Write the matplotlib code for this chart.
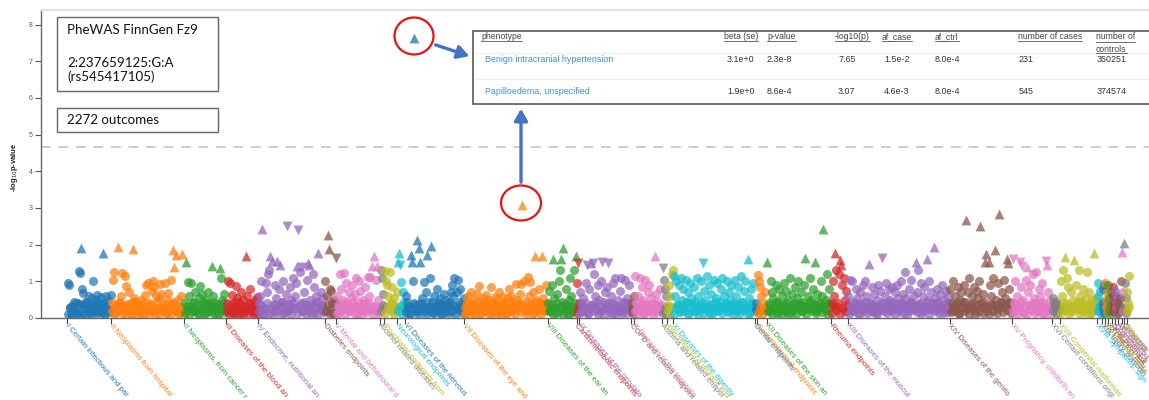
import matplotlib
matplotlib.use("Agg")
import matplotlib.pyplot as plt
from matplotlib.patches import Rectangle, Ellipse, FancyArrowPatch
from matplotlib.lines import Line2D
import numpy as np

plt.rcParams['font.family'] = ['Liberation Sans', 'DejaVu Sans']

W, H = 1149, 400

# ---- data -----------------------------------------------------------------
categories = [
    "I Certain infectious and parasitic diseases",
    "II Neoplasms from hospital discharges",
    "II Neoplasms, from cancer register",
    "III Diseases of the blood and blood-forming organs",
    "IV Endocrine, nutritional and metabolic diseases",
    "Diabetes endpoints",
    "V Mental and behavioural disorders",
    "Alcohol related diseases",
    "Psychiatric endpoints from Katri Räikkönen",
    "Neurological endpoints",
    "VI Diseases of the nervous system",
    "VII Diseases of the eye and adnexa",
    "VIII Diseases of the ear and mastoid process",
    "Cardiometabolic endpoints",
    "IX Diseases of the circulatory system",
    "COPD and related endpoints",
    "X Diseases of the respiratory system",
    "Asthma and related endpoints",
    "Interstitial lung disease endpoints",
    "XI Diseases of the digestive system",
    "Dental endpoints",
    "Gastrointestinal endpoints",
    "XII Diseases of the skin and subcutaneous tissue",
    "Rheuma endpoints",
    "XIII Diseases of the musculoskeletal system",
    "XIV Diseases of the genitourinary system",
    "XV Pregnancy, childbirth and the puerperium",
    "XVI Certain conditions originating in the perinatal period",
    "XVII Congenital malformations",
    "XVIII Symptoms, signs and abnormal findings",
    "XIX Injury, poisoning and external causes",
    "XX External causes of morbidity and mortality",
    "XXI Factors influencing health status",
    "Drug purchase endpoints",
    "Quantitative endpoints",
    "Miscellaneous, not yet classified endpoints",
    "Comorbidities of Asthma",
    "Comorbidities of COPD",
    "Other, not yet classified endpoints",
]

# number of outcomes per category (sums to 2272)
n_outcomes = [94, 156, 90, 68, 143, 24, 94, 9, 28, 17, 126, 178, 62, 6, 111, 6, 60,
              11, 13, 175, 4, 21, 137, 36, 218, 133, 86, 17, 79,
              11, 6, 6, 9, 6, 6, 9, 4, 6, 7]

# signed -log10(p) x100 per category (negative = negative beta), in phenotype order
logp = [
    "95 91 28 12 33 18 45 22 15 40 128 122 192 80 68 35 10 45 27 60 14 38 55 102 20 30 48 62 24 16 58 35 177 42 12 60 28 50 20 62",
    "40 105 126 30 15 195 45 22 60 122 35 115 88 18 28 70 40 12 187 55 25 45 10 38 20 48 32 15 62 90 28 95 42 18 75 100 85 12 60 26 55 92 65 20 30 95 14 50 68 25 104 38 185 140 22 172 48 30 15 60 175 22",
    "40 152 25 98 60 96 30 18 45 70 22 12 55 88 35 65 28 15 50 40 72 20 32 142 60 45 18 25 38 12 137 108 50 30 66 20",
    "40 100 20 95 62 30 12 45 88 55 25 35 70 15 50 28 170 60 22 42 80 18 35 10 48 30 58",
    "40 60 102 242 25 12 95 70 120 130 170 155 35 18 90 55 155 80 145 30 45 100 15 65 -250 38 22 85 50 110 28 60 95 143 -240 125 40 -140 20 70 35 105 150 145 50 15 120 85 30 60 45 177 25 70 35 55 20",
    "102 60 227 187 80 75 40 15 50 -165",
    "60 35 15 120 80 50 122 25 95 40 70 20 55 90 30 65 110 12 45 100 75 28 50 18 85 40 112 60 113 22 142 168 30 105 142 48 15",
    "132 110 65 30",
    "128 100 90 60 125 40 85 20 55 30 70",
    "153 177 -145 98 70 45 25",
    "60 45 25 12 172 153 100 765 35 213 20 190 153 40 55 98 18 70 172 30 110 196 45 15 60 28 80 40 22 55 12 35 65 25 50 18 42 30 70 90 60 110 25 70 105 45 80 30 20 55",
    "30 12 45 60 25 70 15 38 50 20 65 28 88 10 42 55 18 35 62 22 48 30 85 12 40 58 25 48 15 70 35 20 58 45 28 10 55 80 30 60 18 40 25 92 50 35 65 92 307 28 100 45 20 113 60 98 35 70 15 168 50 28 80 40 22 170 55 30 90 40",
    "40 75 20 90 160 55 30 15 65 100 130 160 45 190 25 80 35 12 50 110 60 28 130 40 170",
    "95 -150 40",
    "70 40 20 55 30 95 -145 15 80 150 35 -150 120 60 25 90 50 18 100 -153 45 70 28 85 -150 40 60 12 95 35 110 22 50 30 75 110 15 45 105 25 55 40 90 20",
    "40 20 60",
    "115 40 20 60 30 108 85 50 15 105 35 70 90 25 55 40 18 168 65 30 45 22 80 35",
    "-136 105 80 60 30",
    "35 90 60 120 130",
    "115 60 100 35 90 20 110 50 80 25 105 40 70 15 95 55 30 85 45 20 110 60 35 100 25 -150 75 50 115 30 90 15 65 40 105 20 55 95 30 45 80 110 25 60 35 100 18 70 50 90 28 40 105 60 20 85 35 115 45 25 75 100 30 160 55 15 80 40 95 25",
    "40 20",
    "117 100 85 60 40 25 70 30",
    "152 40 20 100 70 55 30 90 15 45 80 25 60 35 95 20 75 50 30 110 15 65 40 85 25 55 100 35 70 20 45 90 163 30 60 25 110 50 80 35 152 20 65 45 30 102 60 243 25 50 120 40 80 30",
    "40 100 60 177 130 30 120 158 145 90 110 50 75 20",
    "60 105 30 100 45 20 80 55 35 15 70 40 90 25 100 60 30 147 45 20 85 35 65 15 50 90 30 75 -163 40 20 60 95 35 80 50 25 85 45 70 30 90 55 20 100 40 65 30 125 55 20 80 45 105 35 60 25 153 70 130 40 95 20 60 85 30 160 50 100 25 70 40 194 55 25 80 45 65 30 90 15 50 75 25 60 40",
    "80 40 100 20 60 35 85 15 50 70 30 90 45 267 25 70 110 30 60 40 85 20 75 55 100 250 30 65 45 152 175 20 152 90 60 35 110 185 50 25 95 284 40 70 30 105 55 160 150 80 45 35",
    "-160 40 100 20 60 30 -152 85 -142 50 15 105 139 70 35 90 25 120 55 40 125 20 80 60 30 95 45 15 -155 145 70 25 50 35",
    "55 40 30 45 20 35 25",
    "100 60 130 40 167 110 85 30 20 70 50 158 35 90 25 130 60 45 20 80 35 55 125 30 70 15 50 40 177 25 55",
    "95 60 30 75 20 45",
    "80 40 90 20",
    "95 50 70 30",
    "90 55 35 70 20",
    "85 60 40",
    "75 45 30 60",
    "40 25 55 100",
    "180 70",
    "205 95 55",
    "70 40 115",
]

# the many weak associations (-log10(p) x100) of each category
logp_weak = [
    "12 30 08 22 40 15 35 10 27 45 18 32 09 25 38 14 42 20 11 33 24 16",
    "20 10 35 25 42 14 30 08 38 22 12 45 28 16 33 09 40 24 13 36 18 27 44 11 31 21 39 15 26 10 43 19 34 12 29 17",
    "15 32 09 27 41 18 36 12 24 44 10 30 20 38 14 26 08 35 22 40 16",
    "22 10 38 16 30 12 44 20 08 34 26 14 40 18 28 11",
    "18 36 10 28 42 14 24 09 38 20 32 12 45 16 30 22 08 40 26 13 35 19 44 11 29 23 37 15 41 10 27 33 17",
    "20 35 10 28 15 40",
    "14 30 22 40 10 36 18 26 44 12 32 20 08 38 24 16 42 28 11 34 19 25",
    "20 35",
    "15 30 22 40 10 28",
    "18 34 10 26",
    "16 34 10 26 42 20 12 38 24 30 09 44 18 28 14 36 22 40 11 32 25 15 43 19 35 08 27 21 39 13",
    "12 28 40 18 34 09 24 44 14 30 20 38 10 26 42 16 32 22 08 36 27 13 45 19 33 11 29 41 17 35 23 10 39 25 15 43 21 31 12 37 18 28",
    "20 35 10 28 42 16 30 12 38 24 08 33 18 26",
    "15 30",
    "14 32 20 40 10 26 36 18 44 12 30 22 08 38 24 16 42 28 11 34 19 25 40 13 31 21",
    "25 12",
    "18 30 10 40 24 14 35 20 28 09 38 16 32 22",
    "15 28 10",
    "20 12 30",
    "10 26 38 16 32 20 44 12 28 40 18 34 09 24 42 14 30 22 36 11 27 45 19 33 13 29 41 17 35 23 08 39 25 15 43 21 31 12 37 18 26",
    "25",
    "15 30 10 25 20",
    "20 36 12 28 44 16 32 09 24 40 14 30 22 38 10 26 42 18 34 11 29 45 19 35 13 27 41 17 33 23 08 37",
    "14 32 22 40 10 28 18 36",
    "12 30 18 42 24 09 36 20 44 14 28 38 16 32 10 26 40 22 34 13 45 19 29 11 37 25 41 15 33 08 27 43 21 35 17 39 12 31 23 44 10 28 36 18 42 14 30 24 38 16 26",
    "16 34 22 40 10 28 44 18 30 12 38 24 08 36 20 42 14 32 26 11 39 19 35 13 29 43 17 33 23 41 15",
    "20 38 12 30 44 16 26 10 36 22 40 14 32 18 42 09 28 24 34 12",
    "18 32 10 26",
    "14 30 22 40 10 34 18 26 44 12 36 20 28 08 38 16 32 24",
    "20 35 12",
    "28 14",
    "30 16",
    "22 10 34",
    "18 30",
    "26 12",
    "15 32 22",
    "20",
    "28 14",
    "18 30",
]

table_cols = ["phenotype", "beta (se)", "p-value", "-log10(p)", "af_case", "af_ctrl",
              "number of cases", "number of\ncontrols"]
table_rows = [
    ["Benign intracranial hypertension", "3.1e+0", "2.3e-8", "7.65", "1.5e-2", "8.0e-4", "231", "350251"],
    ["Papilloedema, unspecified", "1.9e+0", "8.6e-4", "3.07", "4.6e-3", "8.0e-4", "545", "374574"],
]

threshold = 4.66
total = sum(n_outcomes)

# ---- figure ---------------------------------------------------------------
def fx(px):
    return px / W


def fy(py):
    return 1 - py / H


fig = plt.figure(figsize=(W / 100, H / 100), dpi=100)
ax = fig.add_axes([fx(41), fy(318), fx(1149 - 41), (318 - 10) / H])

colors = plt.get_cmap("tab10").colors
starts = np.concatenate([[0], np.cumsum(n_outcomes)[:-1]])


def spread(start, size, n):
    return start + (np.arange(n) + 0.5) / n * size


cat_labels = []
for i, name in enumerate(categories):
    col = colors[i % 10]
    size = n_outcomes[i]
    weak = np.array([int(v) for v in logp_weak[i].split()]) / 100
    ax.scatter(spread(starts[i], size, len(weak)), weak, s=42, color=col, alpha=0.72,
               linewidths=0, zorder=2)
    vals = np.array([int(v) for v in logp[i].split()]) / 100
    xs = spread(starts[i], size, len(vals))
    ys = np.abs(vals)
    circ = ys < 1.35
    up = (~circ) & (vals > 0)
    dn = (~circ) & (vals < 0)
    ax.scatter(xs[circ], ys[circ], s=42, color=col, alpha=0.72, linewidths=0, zorder=2)
    ax.scatter(xs[up], ys[up], s=50, marker="^", color=col, alpha=0.75, linewidths=0, zorder=3)
    ax.scatter(xs[dn], ys[dn], s=50, marker="v", color=col, alpha=0.75, linewidths=0, zorder=3)
    t = ax.annotate(name, xy=(starts[i], 0), xycoords=("data", "axes fraction"),
                    xytext=(1.5, -3), textcoords="offset points", rotation=-50,
                    rotation_mode="anchor", ha="left", va="top", fontsize=5.6,
                    color=col, annotation_clip=False)
    cat_labels.append(t)

ax.axhline(threshold, color="#cccccc", lw=1.4, ls=(0, (5, 4)), zorder=1)

ax.set_xlim(-56, total + 41)
ax.set_ylim(0, 8.4)
ax.set_xticks(starts)
ax.set_xticklabels([])
ax.set_yticks(range(0, 9))
ax.tick_params(axis="y", labelsize=5, colors="#555555", length=4, width=0.8, pad=2)
ax.tick_params(axis="x", length=4, width=0.8, colors="#444444")
ax.spines["right"].set_visible(False)
ax.spines["top"].set_color("#e3e3e3")
ax.spines["top"].set_linewidth(1.6)
for sp in ["left", "bottom"]:
    ax.spines[sp].set_color("#666666")
    ax.spines[sp].set_linewidth(1)
ax.set_ylabel(r"-log$_{10}$p-value", fontsize=5.5, fontweight="bold", color="#222222")
ax.yaxis.set_label_coords(-0.019, 0.49)

# ---- info boxes -----------------------------------------------------------
box_font = "Lato"
fig.patches.append(Rectangle((fx(57), fy(91)), fx(218 - 57), (91 - 17) / H,
                             transform=fig.transFigure, fill=False, ec="#666666", lw=1))
for yy, txt in [(30, "PheWAS FinnGen Fz9"), (63, "2:237659125:G:A"), (77, "(rs545417105)")]:
    fig.text(fx(67), fy(yy), txt, fontsize=9.6, family=box_font,
             va="center", ha="left", color="#111111")
fig.patches.append(Rectangle((fx(57), fy(132)), fx(218 - 57), (132 - 108) / H,
                             transform=fig.transFigure, fill=False, ec="#666666", lw=1))
fig.text(fx(67), fy(120), "2272 outcomes", fontsize=9.6, family=box_font,
         va="center", ha="left", color="#111111")

# ---- table inset ----------------------------------------------------------
fig.patches.append(Rectangle((fx(473), fy(104)), fx(700), (104 - 31) / H,
                             transform=fig.transFigure, fc="white", ec="#666666", lw=1.3))
for yy in [53, 79]:
    fig.add_artist(Line2D([fx(474), fx(1149)], [fy(yy), fy(yy)], color="#eeeeee", lw=0.8))

col_x = [481, 724, 767, 835, 882, 935, 1018, 1096]
row_x = [485, 727, 767, 838, 884, 935, 1019, 1097]
header_texts = []
for cx, label in zip(col_x, table_cols):
    t = fig.text(fx(cx), fy(32), label, fontsize=6.2, color="#444444",
                 va="top", ha="left", linespacing=1.5)
    header_texts.append(t)
for ry, row in zip([60, 91], table_rows):
    for j, (cx, val) in enumerate(zip(row_x, row)):
        fig.text(fx(cx), fy(ry), val, fontsize=6.4, va="center", ha="left",
                 color="#3d8fe0" if j == 0 else "#333333")

fig.canvas.draw()
renderer = fig.canvas.get_renderer()

# underline the table header
for t in header_texts:
    lines = t.get_text().split("\n")
    bb = t.get_window_extent(renderer)
    lh = bb.height / len(lines)
    for k, ln in enumerate(lines):
        tmp = fig.text(0, 0, ln, fontsize=6.2)
        w = tmp.get_window_extent(renderer).width
        tmp.remove()
        ybase = bb.y1 - (k + 1) * lh + 0.5
        fig.add_artist(Line2D([bb.x0 / W, (bb.x0 + w) / W], [ybase / H, ybase / H],
                              color="#555555", lw=0.6))

# category labels get cut where they meet the figure edge
for t in cat_labels:
    txt = t.get_text()
    bb = t.get_window_extent(renderer)
    while len(txt) > 1 and (bb.y0 < 0 or bb.x1 > W):
        txt = txt[:-1]
        t.set_text(txt)
        bb = t.get_window_extent(renderer)

# ---- highlights -----------------------------------------------------------
fig.patches.append(Ellipse((fx(414), fy(36)), fx(39), 37 / H, transform=fig.transFigure,
                           fill=False, ec="#ee1111", lw=1.6))
fig.patches.append(Ellipse((fx(521), fy(203)), fx(40), 35 / H, transform=fig.transFigure,
                           fill=False, ec="#ee1111", lw=1.6))
arrow_kw = dict(transform=fig.transFigure, arrowstyle="-|>,head_length=0.7,head_width=0.4",
                mutation_scale=10, color="#4472c4", lw=2.4)
fig.patches.append(FancyArrowPatch((fx(433), fy(44)), (fx(472), fy(57)), **arrow_kw))
fig.patches.append(FancyArrowPatch((fx(521), fy(185)), (fx(521), fy(106)), **arrow_kw))

fig.savefig("out.png", dpi=100)
